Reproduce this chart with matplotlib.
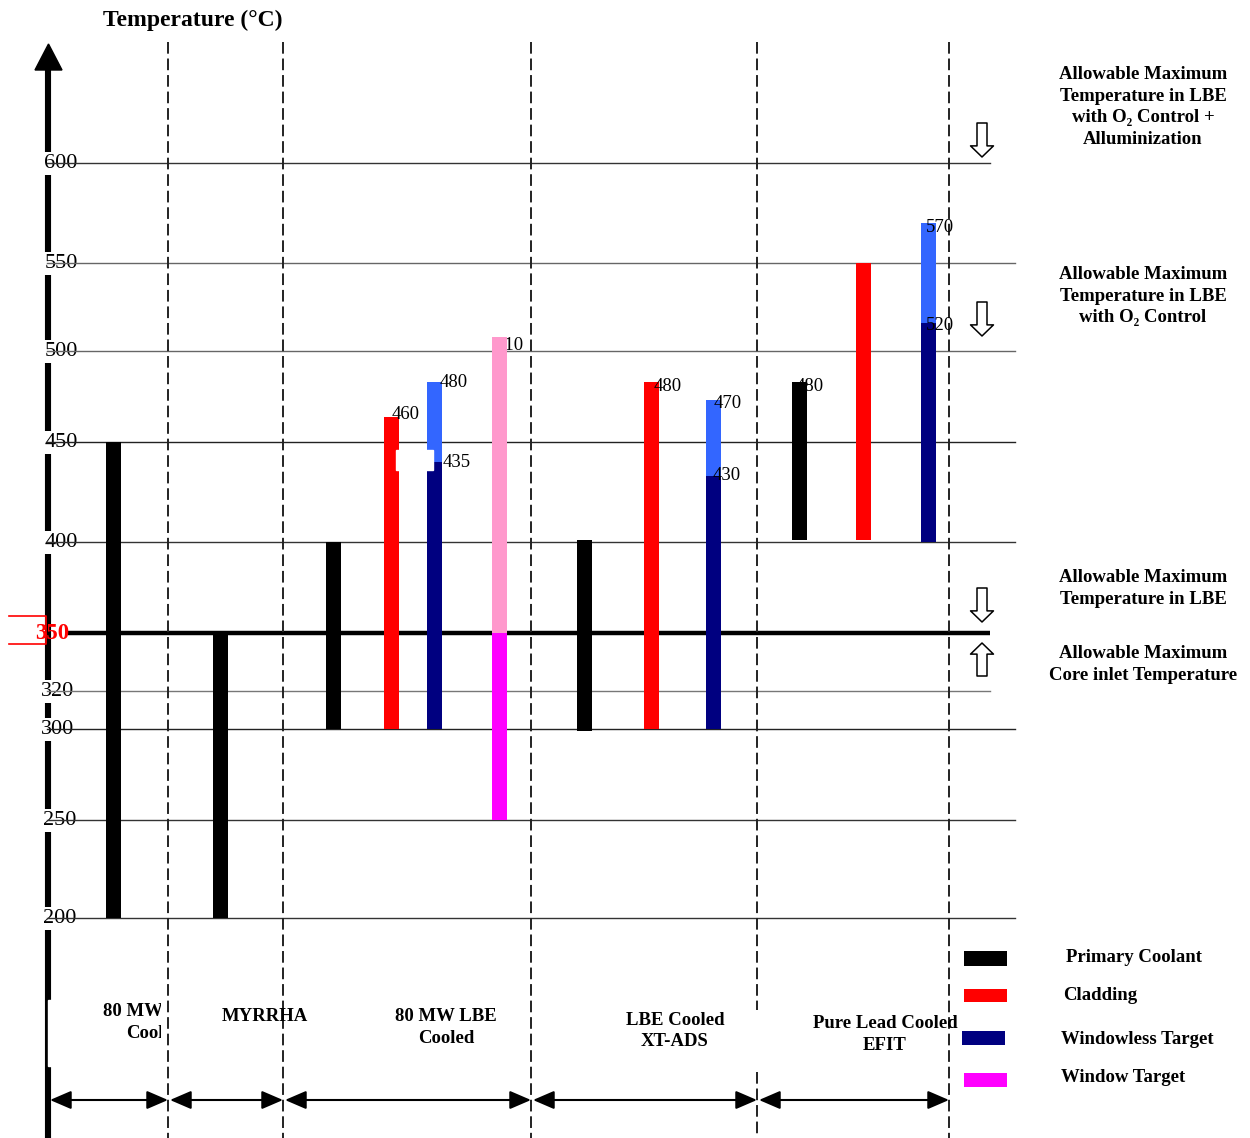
import numpy as np
import matplotlib
matplotlib.use("Agg")
import matplotlib.pyplot as plt
from matplotlib.patches import Rectangle
from matplotlib.transforms import Bbox, TransformedBbox

plt.rcParams["font.family"] = ["Liberation Serif", "DejaVu Serif"]

# ---- data (temperatures in deg C, bar ends as drawn in the schematic) ----
systems = ["80 MW LBE\nCooled", "MYRRHA", "80 MW LBE\nCooled",
           "LBE Cooled\nXT-ADS", "Pure Lead Cooled\nEFIT"]
coolant_min = [200, 200, 300, 299, 401]
coolant_max = [450, 350, 400, 401, 483]
clad_min = [300, 300, 401]
clad_max = [464, 483, 550]
windowless_min = [300, 300, 400]
windowless_max = [440, 433, 516]
windowless_peak = [483, 473, 570]
window_min = [250]
window_mid = [350]
window_max = [508]
# numbers printed next to the bar tops
top_labels = ["460", "480", "435", "510", "480", "470", "430", "480", "570", "520"]
grid_temps = [600, 550, 500, 450, 400, 320, 300, 250, 200]
limit_temp = 350
legend_names = ["Primary Coolant", "Cladding", "Windowless Target", "Window Target"]
limit_notes = [
    "Allowable Maximum\nTemperature in LBE\nwith O\u2082 Control +\nAlluminization",
    "Allowable Maximum\nTemperature in LBE\nwith O\u2082 Control",
    "Allowable Maximum\nTemperature in LBE",
    "Allowable Maximum\nCore inlet Temperature",
]

# ---- layout: the temperature axis in the original is not evenly spaced ----
T_ANCH = np.array([-1000, 200, 250, 300, 320, 350, 400, 450, 500, 550, 600, 2000.0])
PX_ANCH = np.array([3270, 918, 820, 729, 691, 633, 542, 442, 351, 263, 163, -2637.0])


def fwd(t):
    return np.interp(np.asarray(t, dtype=float), T_ANCH, -PX_ANCH)


def inv(v):
    return np.interp(np.asarray(v, dtype=float), -PX_ANCH, T_ANCH)


def at(py):
    # temperature value sitting at a given pixel row
    return float(inv(-py))


BLACK, RED, NAVY = "black", "#FF0000", "#000080"
LIGHT_BLUE, PINK, MAGENTA = "#3366FF", "#FF99CC", "#FF00FF"
LSP = 1.36

fig = plt.figure(figsize=(12.5, 11.38), dpi=100)
ax = fig.add_axes([0, 0, 1, 1])
ax.set_yscale("function", functions=(fwd, inv))
ax.set_xlim(0, 1250)
ax.set_ylim(at(1138), at(0))
ax.axis("off")

# left axis with arrow head
ax.plot([48, 48], [at(1138), at(68)], color="black", lw=4.4, solid_capstyle="butt", zorder=1.5)
ax.fill([35, 62, 48.5], [at(70), at(70), at(44)], color="black", zorder=1.5)
ax.add_patch(Rectangle((48.2, at(1066)), 112, at(1000) - at(1066), color="white", zorder=1.6))
ax.text(103, at(20), "Temperature (\u00b0C)", fontsize=17, fontweight="bold", ha="left", va="center")

# tick labels (white boxes break the axis line)
tick_x = [61, 61, 61, 61, 61, 57.5, 57.5, 59.5, 59.5]
for t, x in zip(grid_temps, tick_x):
    ax.text(x, t, str(t), fontsize=16, ha="center", va="center", zorder=1.8,
            bbox=dict(facecolor="white", edgecolor="none", pad=1.5))
ax.text(52.5, limit_temp, str(limit_temp), fontsize=16.5, fontweight="bold", color="red",
        ha="center", va="center", zorder=2.5)
ax.plot([9, 46, 46, 9], [at(616), at(616), at(644), at(644)], color="red", lw=1.2, zorder=2)

# horizontal reference lines
grid_end = [990, 1015, 1015, 1015, 1015, 990, 1015, 1015, 1015]
grid_col = ["#333333", "#666666", "#666666", "#222222", "#333333", "#777777", "#222222", "#333333", "#333333"]
for t, xe, c in zip(grid_temps, grid_end, grid_col):
    ax.plot([47, xe], [t, t], color=c, lw=1.0, zorder=2)
ax.plot([68, 990], [limit_temp, limit_temp], color="black", lw=3.2, solid_capstyle="butt", zorder=2)

# dashed separators
sep_x = [168, 283, 531, 757, 949]
for x in sep_x:
    spans = [(42, 1010), (1072, 1138)] if x == 757 else [(42, 1138)]
    for a, b in spans:
        ax.plot([x, x], [at(a), at(b)], color="#222222", lw=1.4, ls=(0, (6, 2.5)), zorder=4)

# bars
bar_w = 15
coolant_x = [113.5, 220.5, 333.5, 584.5, 799.5]
clad_x = [391.5, 651, 863.5]
target_x = [434.5, 713.5, 928.5]
window_x = [499.5]
ax.bar(coolant_x, np.subtract(coolant_max, coolant_min), bottom=coolant_min,
       width=bar_w, color=BLACK, lw=0, zorder=3)
ax.bar(clad_x, np.subtract(clad_max, clad_min), bottom=clad_min,
       width=bar_w, color=RED, lw=0, zorder=3)
ax.bar(target_x, np.subtract(windowless_peak, windowless_max), bottom=windowless_max,
       width=bar_w, color=LIGHT_BLUE, lw=0, zorder=3)
ax.bar(target_x, np.subtract(windowless_max, windowless_min), bottom=windowless_min,
       width=bar_w, color=NAVY, lw=0, zorder=3)
ax.bar(window_x, np.subtract(window_mid, window_min), bottom=window_min,
       width=bar_w, color=MAGENTA, lw=0, zorder=3)
ax.bar(window_x, np.subtract(window_max, window_mid), bottom=window_mid,
       width=bar_w, color=PINK, lw=0, zorder=3)
ax.add_patch(Rectangle((396, at(470)), 37, at(450) - at(470), color="white", zorder=3.5))

# value labels next to bar tops: (x, anchor value, pixel drop, zorder)
label_spots = [
    (392, clad_max[0], -2, 5), (440, windowless_peak[0], 1, 5), (443, windowless_max[0], 0, 5),
    (496, window_max[0], 9, 2), (654, clad_max[1], 5, 5), (714, windowless_peak[1], 3, 5),
    (713, windowless_max[1], -1, 5), (796, coolant_max[4], 5, 2), (926, windowless_peak[2], 4, 5),
    (926, windowless_max[2], 3, 5),
]
for s, (x, v, dy, z) in zip(top_labels, label_spots):
    ax.annotate(s, xy=(x, v), xytext=(0, -dy * 0.72), textcoords="offset points",
                fontsize=13.5, ha="left", va="center", zorder=z)

# system names
name_pos = [(154, 1022.5), (265, 1016), (446, 1027.5), (675, 1031), (885, 1034.5)]
for i, (name, (x, py)) in enumerate(zip(systems, name_pos)):
    txt = ax.text(x, at(py), name, fontsize=13.5, fontweight="bold", ha="center",
                  va="center", linespacing=LSP, zorder=5)
    if i == 0:
        box = Bbox.from_extents(0, at(1070), 160.5, at(990))
        txt.set_clip_box(TransformedBbox(box, ax.transData))
        txt.set_clip_on(True)

# double-headed span arrows
spans = [(50, 168), (170, 283), (285, 531), (533, 757), (759, 949)]
for a, b in spans:
    ax.annotate("", xy=(b, at(1100)), xytext=(a, at(1100)),
                arrowprops=dict(arrowstyle="<|-|>,head_length=0.65,head_width=0.28",
                                color="black", lw=1.5, mutation_scale=20,
                                shrinkA=0, shrinkB=0), zorder=5)

# limit notes and hollow arrows
note_pos = [107, 296, 588.5, 664.5]
for note, py in zip(limit_notes, note_pos):
    ax.text(1143, at(py), note, fontsize=13.5, fontweight="bold", ha="center",
            va="center", linespacing=LSP)
hollow = [(123, 157), (302, 336), (588, 622), (676, 643)]
for a, b in hollow:
    ax.annotate("", xy=(982, at(b)), xytext=(982, at(a)),
                arrowprops=dict(arrowstyle="simple,head_length=0.8,head_width=1.65,tail_width=0.72",
                                fc="white", ec="black", lw=1.1, mutation_scale=10,
                                shrinkA=0, shrinkB=0), zorder=5)

# legend
leg_boxes = [(964, 951, 966), (964, 989, 1002), (962, 1031, 1045), (964, 1073, 1087)]
leg_text = [(1066, 957), (1063, 995), (1061, 1039), (1061, 1078)]
for name, col, (x, top, bot), (tx, ty) in zip(legend_names, [BLACK, RED, NAVY, MAGENTA], leg_boxes, leg_text):
    ax.add_patch(Rectangle((x, at(bot)), 43, at(top) - at(bot), color=col, lw=0, zorder=3))
    ax.text(tx, at(ty), name, fontsize=13.5, fontweight="bold", ha="left", va="center")

fig.savefig("out.png", dpi=100)
